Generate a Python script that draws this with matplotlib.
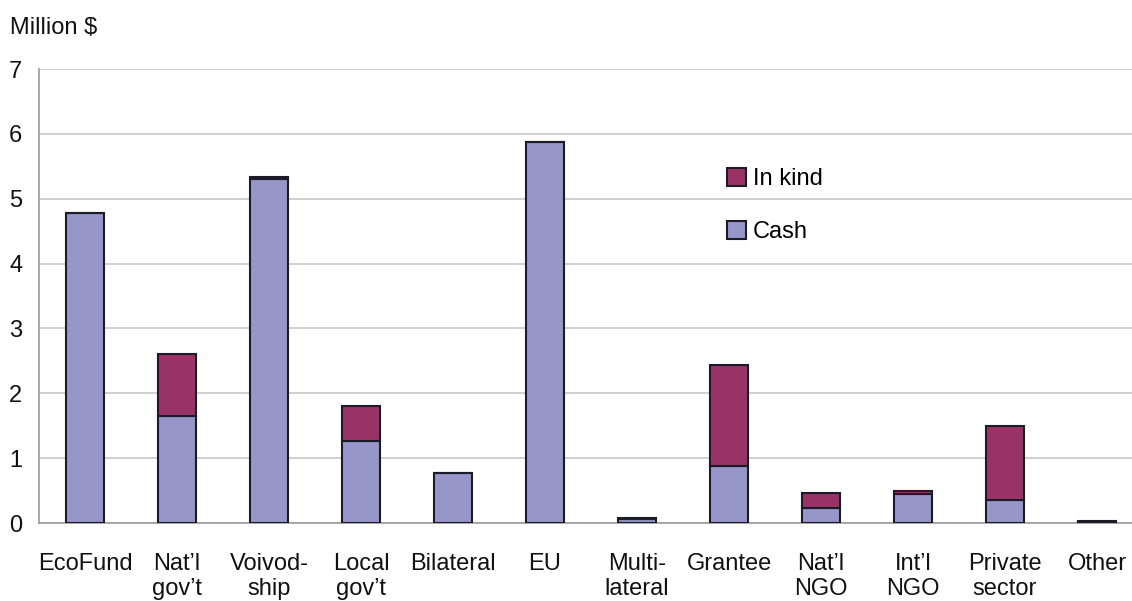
import matplotlib
matplotlib.use('Agg')
import matplotlib.pyplot as plt
import numpy as np

plt.rcParams['font.family'] = ['Liberation Sans', 'DejaVu Sans']

categories = ['EcoFund', "Nat\u2019l\ngov\u2019t", 'Voivod-\nship', 'Local\ngov\u2019t',
              'Bilateral', 'EU', 'Multi-\nlateral', 'Grantee', "Nat\u2019l\nNGO",
              "Int\u2019l\nNGO", 'Private\nsector', 'Other']
cash = [4.78, 1.65, 5.30, 1.26, 0.77, 5.87, 0.06, 0.88, 0.23, 0.44, 0.36, 0.02]
in_kind = [0.0, 0.96, 0.03, 0.54, 0.0, 0.0, 0.01, 1.56, 0.23, 0.06, 1.14, 0.015]

cash_color = '#9696c8'
kind_color = '#993366'
edge = '#1c1c28'
fs = 17

fig = plt.figure(figsize=(11.32, 6.01), dpi=100)
ax = fig.add_axes([39 / 1132, 1 - 523 / 601, 1 - 39 / 1132, (523 - 69) / 601])

x = np.arange(len(categories))
w = 0.41
b1 = ax.bar(x, cash, w, color=cash_color, edgecolor=edge, linewidth=1.5, label='Cash', zorder=3)
b2 = ax.bar(x, in_kind, w, bottom=cash, color=kind_color, edgecolor=edge, linewidth=1.5,
            label='In kind', zorder=3)

ax.set_ylim(0, 7)
ax.set_xlim(-0.5, -0.5 + 1093 / 92)
ax.set_yticks(range(8))
ax.set_xticks(x)
ax.set_xticklabels(categories, linespacing=1.2)

ax.grid(True, axis='y', color='#c8c8c8', lw=1.2, zorder=0)
ax.spines['top'].set_visible(False)
ax.spines['right'].set_visible(False)
ax.spines['left'].set_color('#999999')
ax.spines['bottom'].set_color('#999999')
ax.spines['left'].set_linewidth(1.2)
ax.spines['bottom'].set_linewidth(1.2)
ax.tick_params(axis='both', length=0, labelsize=fs, colors='#111111')
ax.tick_params(axis='x', pad=21.5)
ax.tick_params(axis='y', pad=12)

fig.text(10 / 1132, 1 - 28 / 601, 'Million $', fontsize=fs, ha='left', va='center',
         color='#111111')

leg = ax.legend(handles=[b2, b1], labels=['In kind', 'Cash'], loc='upper left',
                bbox_to_anchor=(727 / 1132, 1 - 168 / 601), bbox_transform=fig.transFigure,
                frameon=False, fontsize=fs, handlelength=0.8, handleheight=0.8,
                handletextpad=0.3, labelspacing=1.3, borderpad=0, borderaxespad=0)

fig.savefig('out.png', dpi=100)
